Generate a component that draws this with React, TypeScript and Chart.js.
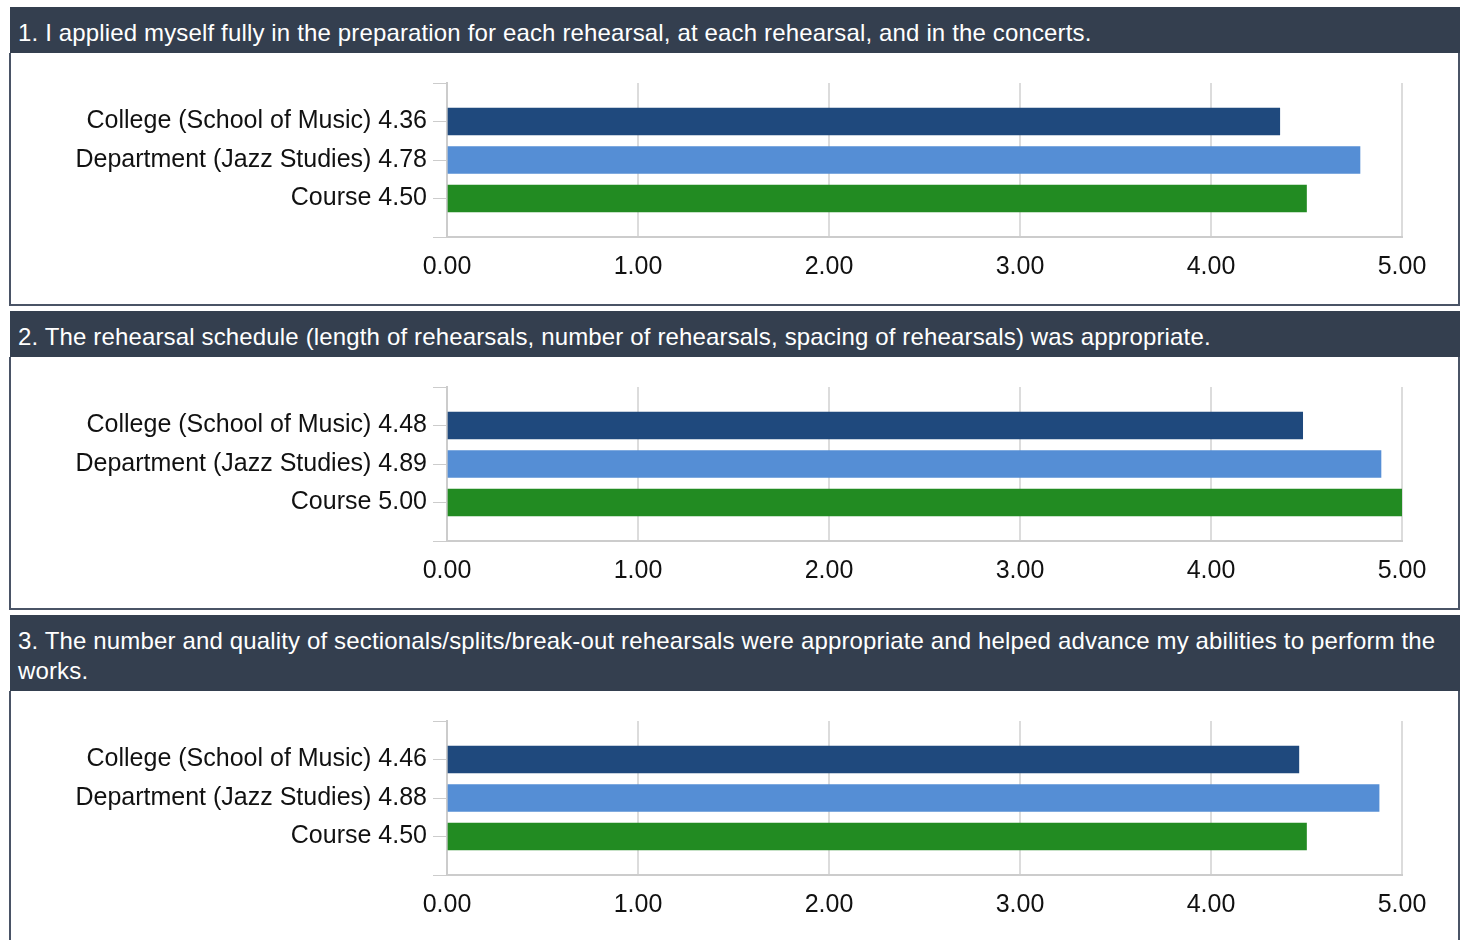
import React, { useEffect, useRef } from "react";
import { Chart, registerables } from "chart.js";

Chart.register(...registerables);

const categories = ["College (School of Music)", "Department (Jazz Studies)", "Course"];
const questions = [
  "1. I applied myself fully in the preparation for each rehearsal, at each rehearsal, and in the concerts.",
  "2. The rehearsal schedule (length of rehearsals, number of rehearsals, spacing of rehearsals) was appropriate.",
  "3. The number and quality of sectionals/splits/break-out rehearsals were appropriate and helped advance my abilities to perform the works.",
];
const q1Values = [4.36, 4.78, 4.5];
const q2Values = [4.48, 4.89, 5.0];
const q3Values = [4.46, 4.88, 4.5];
const allValues = [q1Values, q2Values, q3Values];
const xMin = 0;
const xMax = 5;
const xStep = 1;
const barColors = ["#1f497d", "#558ed5", "#228b22"];

const FONT = "Arial, 'Liberation Sans', sans-serif";
const CANVAS_W = 1447;
const CANVAS_H = 251;

function BarPanel({ values }: { values: number[] }) {
  const ref = useRef<HTMLCanvasElement | null>(null);
  useEffect(() => {
    if (!ref.current) return;
    const labels = ["", ...categories.map((c, i) => `${c} ${values[i].toFixed(2)}`), ""];
    const data = [null, ...values, null];
    const colors = ["transparent", ...barColors, "transparent"];
    const chart = new Chart(ref.current, {
      type: "bar",
      data: {
        labels,
        datasets: [
          {
            data,
            backgroundColor: colors,
            borderWidth: 0,
            barThickness: 27,
          },
        ],
      },
      options: {
        indexAxis: "y",
        responsive: false,
        animation: false,
        layout: { padding: { top: 30, right: 56, bottom: 17, left: 0 } },
        plugins: { legend: { display: false }, tooltip: { enabled: false } },
        scales: {
          x: {
            min: xMin,
            max: xMax,
            ticks: {
              stepSize: xStep,
              padding: 15,
              color: "#111",
              font: { family: FONT, size: 25 },
              callback: (v: any) => Number(v).toFixed(2),
            },
            grid: { color: "#dcdcdc", lineWidth: 2, drawTicks: false },
            border: { display: true, color: "#cccccc", width: 2 },
            afterFit: (s: any) => {
              s.height = 50;
            },
          },
          y: {
            offset: false,
            ticks: {
              padding: 6,
              color: "#111",
              font: { family: FONT, size: 25 },
              autoSkip: false,
            },
            grid: {
              offset: false,
              drawOnChartArea: false,
              drawTicks: true,
              tickLength: 14,
              color: "#cccccc",
              lineWidth: 1,
            },
            border: { display: true, color: "#cccccc", width: 2 },
            afterFit: (s: any) => {
              s.width = 436;
            },
          },
        },
      },
    } as any);
    return () => chart.destroy();
  }, [values]);
  return <canvas ref={ref} width={CANVAS_W} height={CANVAS_H} style={{ display: "block", width: CANVAS_W, height: CANVAS_H }} />;
}

export default function App() {
  return (
    <div
      style={{
        position: "absolute",
        left: 0,
        top: 0,
        width: 1460,
        height: 940,
        overflow: "hidden",
        background: "#fff",
        fontFamily: FONT,
      }}
    >
      <div style={{ position: "absolute", left: 9, top: 7, width: 1451 }}>
        {questions.map((q, i) => (
          <div key={i} style={{ marginBottom: 5 }}>
            <div
              style={{
                background: "#343f4f",
                color: "#fff",
                fontSize: 24,
                letterSpacing: 0.15,
                lineHeight: "30px",
                padding: "11px 8px 5px 8px",
                marginLeft: 1,
              }}
            >
              {q}
            </div>
            <div
              style={{
                boxSizing: "border-box",
                height: 253,
                borderLeft: "2px solid #4a5466",
                borderRight: "2px solid #4a5466",
                borderBottom: "2px solid #4a5466",
                background: "#fff",
              }}
            >
              <BarPanel values={allValues[i]} />
            </div>
          </div>
        ))}
      </div>
    </div>
  );
}
